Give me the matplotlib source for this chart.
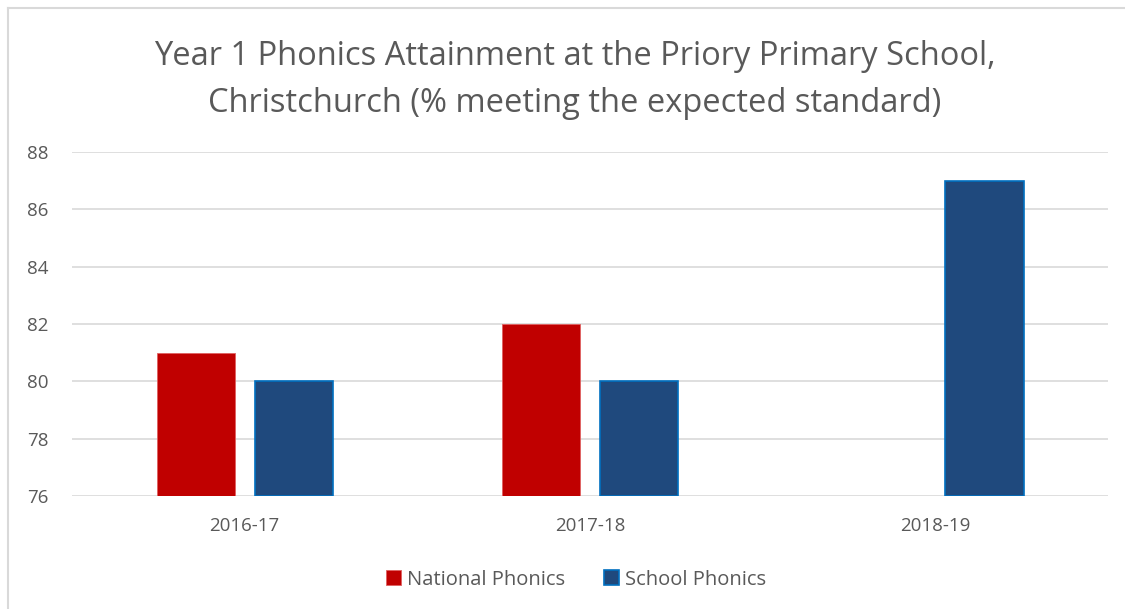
import numpy as np
import matplotlib.pyplot as plt
from matplotlib.lines import Line2D

# chart data
years = ["2016-17", "2017-18", "2018-19"]
national = [81, 82, np.nan]
school = [80, 80, 87]
y_ticks = [76, 78, 80, 82, 84, 86, 88]

plt.rcParams['font.family'] = ['Open Sans', 'DejaVu Sans']
txt_col = '#595959'

fig = plt.figure(figsize=(11.25, 6.09), dpi=100)
ax = fig.add_axes([0.064, 0.1856, 0.921, 0.5648])

x = np.arange(len(years))
w = 0.226
off = 0.142
ax.bar(x - off, np.array(national) - 76, w, bottom=76, color='#C00000',
       edgecolor='#E06060', linewidth=0.6, label='National Phonics', zorder=3)
ax.bar(x + off, np.array(school) - 76, w, bottom=76, color='#1F497D',
       edgecolor='#0070C0', linewidth=1.2, label='School Phonics', zorder=3)

ax.set_xlim(-0.5, len(years) - 0.5)
ax.set_ylim(76, 88)
ax.set_yticks(y_ticks)
ax.set_xticks(x)
ax.set_xticklabels(years)
ax.tick_params(axis='both', length=0, labelsize=13.5, colors=txt_col)
ax.tick_params(axis='x', pad=15)
ax.tick_params(axis='y', pad=17)
ax.grid(axis='y', color='#D9D9D9', linewidth=1.2, zorder=0)
for s in ax.spines.values():
    s.set_visible(False)

fig.text(0.511, 0.869, "Year 1 Phonics Attainment at the Priory Primary School,\n"
         "Christchurch (% meeting the expected standard)",
         ha='center', va='center', fontsize=23.5, color=txt_col, linespacing=1.55)

leg = fig.legend(loc='center', bbox_to_anchor=(0.512, 0.048), ncol=2, frameon=False,
                 fontsize=14.5, handlelength=0.75, handleheight=0.75, handletextpad=0.3,
                 columnspacing=1.9)
for t in leg.get_texts():
    t.set_color(txt_col)

# outer chart border (left and top visible)
fig.add_artist(Line2D([8 / 1125, 8 / 1125], [0, 1 - 8 / 609], transform=fig.transFigure,
                      color='#D9D9D9', linewidth=1.5))
fig.add_artist(Line2D([8 / 1125, 1], [1 - 8 / 609, 1 - 8 / 609], transform=fig.transFigure,
                      color='#D9D9D9', linewidth=1.5))

fig.savefig("out.png", dpi=100)
